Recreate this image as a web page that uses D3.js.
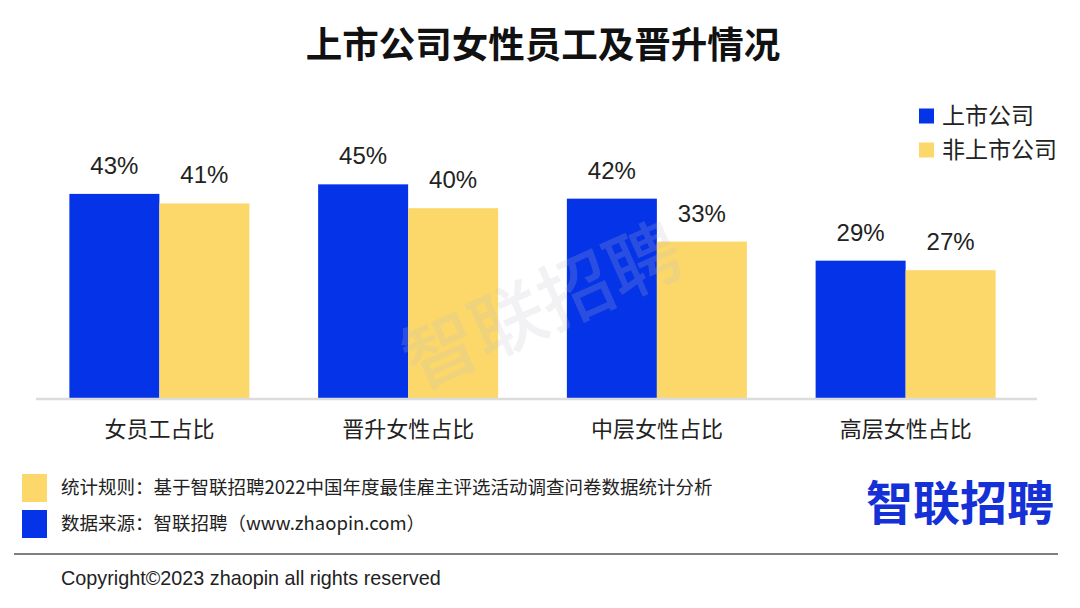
<!DOCTYPE html>
<html>
<head>
<meta charset="utf-8">
<script src="https://cdn.jsdelivr.net/npm/d3@7"></script>
<style>
html,body{margin:0;padding:0;background:#fff;}
svg{display:block;}
</style>
</head>
<body>
<svg id="chart" width="1080" height="608"></svg>
<script>
const categories = ["女员工占比", "晋升女性占比", "中层女性占比", "高层女性占比"];
const seriesNames = ["上市公司", "非上市公司"];
const listedValues = [43, 45, 42, 29];
const unlistedValues = [41, 40, 33, 27];
const titleText = "上市公司女性员工及晋升情况";
const noteRule = "统计规则：基于智联招聘2022中国年度最佳雇主评选活动调查问卷数据统计分析";
const noteSource = "数据来源：智联招聘（www.zhaopin.com）";
const copyrightText = "Copyright©2023 zhaopin all rights reserved";
const brandText = "智联招聘";

const colors = ["#0433e8", "#fcd769"];
const cjk = "'Noto Sans CJK SC','Noto Sans',sans-serif";
const latin = "'Liberation Sans','Noto Sans CJK SC',sans-serif";

const svg = d3.select("#chart");

// title
svg.append("text")
  .attr("x", 543).attr("y", 58)
  .attr("text-anchor", "middle")
  .attr("font-family", cjk)
  .attr("font-weight", 700)
  .attr("font-size", 36.5)
  .attr("fill", "#111")
  .text(titleText);

const baseline = 399;
const y = d3.scaleLinear().domain([0, 50]).range([baseline, baseline - 238.5]);
const x0 = d3.scaleBand().domain(categories).range([35, 1030]).padding(0);
const x1 = d3.scaleBand().domain(seriesNames)
  .range([x0.bandwidth() / 2 - 90, x0.bandwidth() / 2 + 90]).padding(0);

const data = categories.map((c, i) => ({
  cat: c,
  vals: [
    { s: seriesNames[0], v: listedValues[i] },
    { s: seriesNames[1], v: unlistedValues[i] }
  ]
}));

const g = svg.append("g");
const groups = g.selectAll("g.grp").data(data).join("g")
  .attr("transform", d => `translate(${x0(d.cat)},0)`);

groups.selectAll("rect").data(d => d.vals).join("rect")
  .attr("x", d => x1(d.s))
  .attr("y", d => y(d.v))
  .attr("width", x1.bandwidth())
  .attr("height", d => baseline - y(d.v))
  .attr("fill", (d, i) => colors[i]);

groups.selectAll("text.val").data(d => d.vals).join("text")
  .attr("class", "val")
  .attr("x", d => x1(d.s) + x1.bandwidth() / 2)
  .attr("y", d => y(d.v) - 20)
  .attr("text-anchor", "middle")
  .attr("font-family", latin)
  .attr("font-size", 24)
  .attr("fill", "#222")
  .text(d => d.v + "%");

// axis
const axis = d3.axisBottom(x0).tickSize(0).tickPadding(22);
const ax = svg.append("g").attr("transform", `translate(0,${baseline})`).call(axis);
ax.select(".domain").attr("d", "M36,0H1037").attr("stroke", "#dcdcdc").attr("stroke-width", 2.5);
ax.selectAll(".tick text")
  .attr("font-family", cjk)
  .attr("font-size", 22)
  .attr("fill", "#222");

// watermark (on top of bars)
svg.append("text")
  .attr("transform", "translate(553,330) rotate(-24)")
  .attr("text-anchor", "middle")
  .attr("font-family", cjk)
  .attr("font-size", 74)
  .attr("font-weight", 500)
  .attr("fill", "rgba(190,190,200,0.2)")
  .text(brandText);

// legend
const leg = svg.append("g");
seriesNames.forEach((n, i) => {
  const yy = 116 + i * 34;
  leg.append("rect").attr("x", 919).attr("y", yy - 7.5).attr("width", 15).attr("height", 15).attr("fill", colors[i]);
  leg.append("text").attr("x", 942).attr("y", yy).attr("dy", "0.35em")
    .attr("font-family", cjk).attr("font-size", 23).attr("fill", "#222").text(n);
});

// footer notes
const notes = [noteRule, noteSource];
const noteColors = [colors[1], colors[0]];
notes.forEach((t, i) => {
  const yy = 488 + i * 36;
  svg.append("rect").attr("x", 22).attr("y", yy - 14).attr("width", 25).attr("height", 28).attr("fill", noteColors[i]);
  svg.append("text").attr("x", 61).attr("y", yy).attr("dy", "0.35em")
    .attr("font-family", cjk).attr("font-size", 18.5).attr("fill", "#222").text(t);
});

// brand logo
svg.append("text").attr("x", 960).attr("y", 504).attr("dy", "0.35em")
  .attr("text-anchor", "middle")
  .attr("font-family", cjk).attr("font-weight", 700).attr("font-size", 47)
  .attr("fill", "#1530d6").text(brandText);

// separator line
svg.append("line").attr("x1", 14).attr("x2", 1058).attr("y1", 554).attr("y2", 554)
  .attr("stroke", "#555").attr("stroke-width", 1.6);

svg.append("text").attr("x", 61).attr("y", 578).attr("dy", "0.35em")
  .attr("font-family", latin).attr("font-size", 19.8).attr("fill", "#222").text(copyrightText);
</script>
</body>
</html>
